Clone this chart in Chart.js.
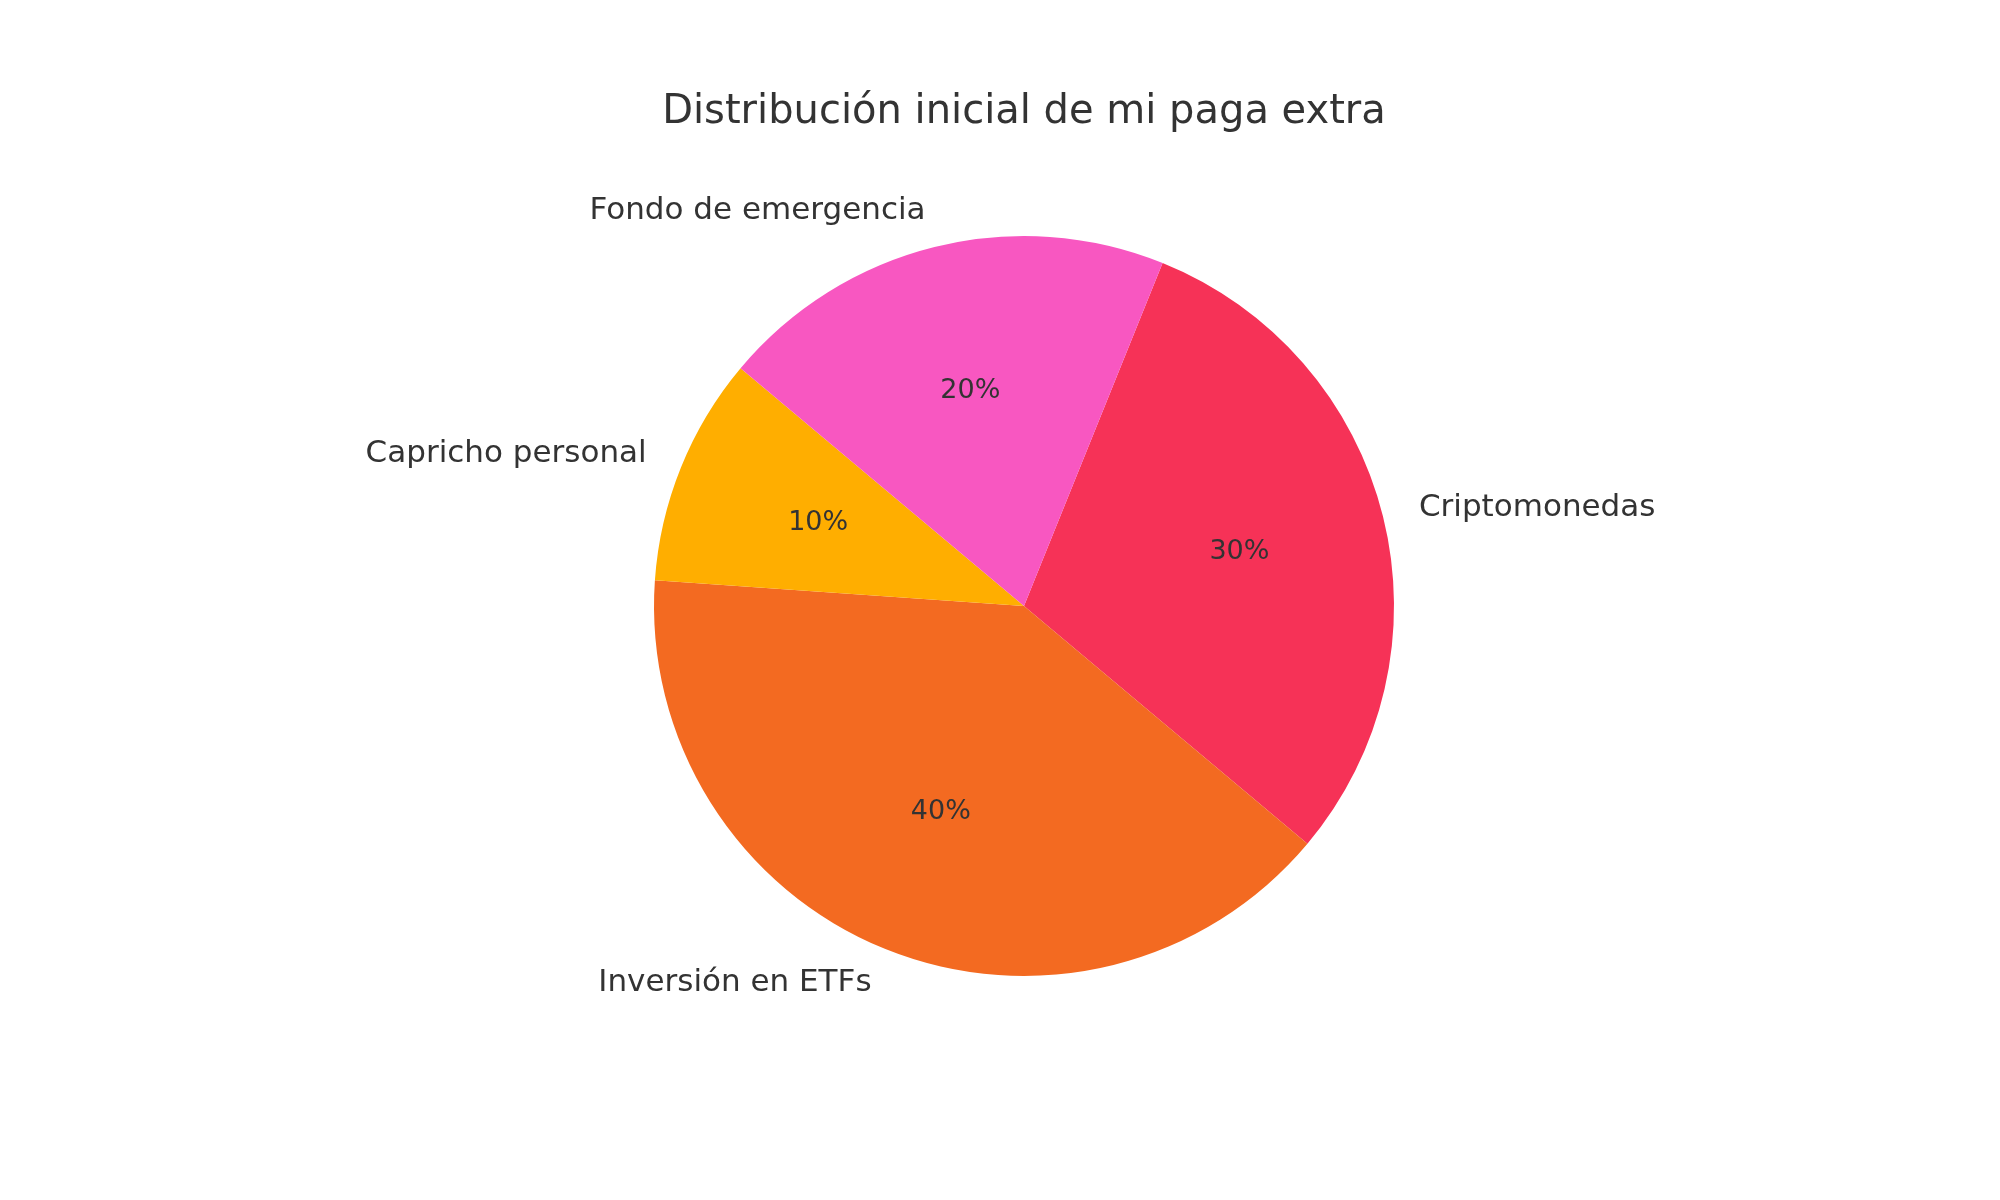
<!DOCTYPE html>
<html>
<head>
<meta charset="utf-8">
<script src="https://cdn.jsdelivr.net/npm/chart.js@4"></script>
<style>
  body { margin: 0; background: #fff; }
  #wrap { width: 2000px; height: 1200px; }
</style>
</head>
<body>
<div id="wrap"><canvas id="pie"></canvas></div>
<script>
const chartTitle = 'Distribución inicial de mi paga extra';
const categories = ['Criptomonedas', 'Inversión en ETFs', 'Capricho personal', 'Fondo de emergencia'];
const shares = [30, 40, 10, 20];
const colors = ['#F63257', '#F36A21', '#FFAE00', '#F857C1'];

const font = '"DejaVu Sans", sans-serif';

// matplotlib style labels: name outside, percentage inside
const pieLabels = {
  id: 'pieLabels',
  afterDraw(chart) {
    const ctx = chart.ctx;
    ctx.save();
    ctx.fillStyle = '#333333';
    ctx.textAlign = 'center';
    ctx.textBaseline = 'middle';
    ctx.font = '40px ' + font;
    ctx.fillText(chartTitle, 1024, 113);

    chart.getDatasetMeta(0).data.forEach((arc, i) => {
      const mid = (arc.startAngle + arc.endAngle) / 2;
      const r = arc.outerRadius;
      const cx = Math.cos(mid), cy = Math.sin(mid);
      ctx.font = '27px ' + font;
      ctx.textAlign = 'center';
      ctx.fillText(shares[i] + '%', arc.x + cx * r * 0.6, arc.y + cy * r * 0.6);
      ctx.font = '31px ' + font;
      ctx.textAlign = cx >= 0 ? 'left' : 'right';
      ctx.fillText(categories[i], arc.x + cx * r * 1.1, arc.y + cy * r * 1.1);
    });
    ctx.restore();
  }
};

new Chart(document.getElementById('pie'), {
  type: 'pie',
  data: {
    labels: categories,
    datasets: [{
      data: shares,
      backgroundColor: colors,
      borderWidth: 0
    }]
  },
  options: {
    responsive: true,
    maintainAspectRatio: false,
    animation: false,
    rotation: 22,
    layout: {
      padding: { left: 654, right: 606, top: 236, bottom: 224 }
    },
    plugins: {
      legend: { display: false },
      tooltip: { enabled: false }
    }
  },
  plugins: [pieLabels]
});
</script>
</body>
</html>
